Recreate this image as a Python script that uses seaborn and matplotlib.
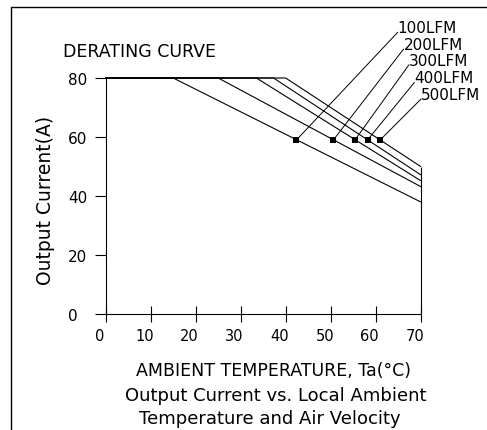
import matplotlib
matplotlib.use("Agg")
import matplotlib.pyplot as plt
import matplotlib.transforms as mtransforms
from matplotlib.lines import Line2D
import pandas as pd
import seaborn as sns

# Derating data: each airflow curve is flat at the max current until its knee,
# then falls linearly to its value at 70 °C.
airflow = ["100LFM", "200LFM", "300LFM", "400LFM", "500LFM"]
knee_temp = [15.0, 25.0, 33.5, 37.3, 40.0]
current_at_70 = [38.0, 43.2, 45.2, 47.2, 50.0]
max_current = 80.0
temp_min = 0.0
temp_max = 70.0

# Reference points marked on each curve
marker_temp = [42.4, 50.6, 55.4, 58.2, 61.0]
marker_current = [59.0, 59.0, 59.0, 59.0, 59.0]

x_ticks = [0, 10, 20, 30, 40, 50, 60, 70]
y_ticks = [0, 20, 40, 60, 80]

# Where the callout text for each curve sits (data coordinates, outside the axes)
label_x = [64.9, 66.2, 67.4, 68.6, 70.1]
label_y = [95.5, 89.8, 84.5, 78.5, 72.9]

rows = []
for name, knee, end in zip(airflow, knee_temp, current_at_70):
    rows.append({"airflow": name, "temp": temp_min, "current": max_current})
    rows.append({"airflow": name, "temp": knee, "current": max_current})
    rows.append({"airflow": name, "temp": temp_max, "current": end})
df = pd.DataFrame(rows)

sns.set_theme(style="white")
plt.rcParams["font.family"] = ["DejaVu Sans"]
plt.rcParams["text.color"] = "black"
plt.rcParams["axes.labelcolor"] = "black"

fig = plt.figure(figsize=(4.87, 4.31), dpi=100)
ax = fig.add_axes([0.217, 0.2691, 0.6468, 0.5476])

sns.lineplot(data=df, x="temp", y="current", hue="airflow", units="airflow",
             estimator=None, sort=False, palette=["black"] * 5, legend=False,
             linewidth=0.8, ax=ax)
for line in ax.lines:
    line.set_clip_on(False)

sns.scatterplot(x=marker_temp, y=marker_current, marker="s", s=14,
                color="black", linewidth=0, ax=ax, zorder=5, clip_on=False)

# Callout leaders and labels
for name, mx, my, lx, ly in zip(airflow, marker_temp, marker_current, label_x, label_y):
    ax.plot([mx, lx], [my, ly], color="black", linewidth=0.7, clip_on=False)
    ax.text(lx, ly, name, ha="left", va="baseline", fontsize=11, clip_on=False)

# Right-hand boundary at the top temperature
ax.vlines(temp_max, 0, max(current_at_70), color="black", linewidth=0.8, clip_on=False)

ax.set_xlim(temp_min, temp_max)
ax.set_ylim(0, max_current)
ax.set_xticks(x_ticks)
ax.set_yticks(y_ticks)
ax.set_xticklabels([str(v) for v in x_ticks], fontsize=10.5)
ax.set_yticklabels([str(v) for v in y_ticks], fontsize=11, ha="left")

for side in ("top", "right"):
    ax.spines[side].set_visible(False)
for side in ("left", "bottom"):
    ax.spines[side].set_color("black")
    ax.spines[side].set_linewidth(0.8)

ax.tick_params(axis="x", bottom=True, direction="inout", length=12, width=0.8,
               color="black", labelcolor="black", pad=4)
ax.tick_params(axis="y", left=True, direction="out", length=7.7, width=0.8,
               color="black", labelcolor="black", pad=19.4)

shift = mtransforms.ScaledTranslation(-6 / 100, 0, fig.dpi_scale_trans)
for lab in ax.get_xticklabels():
    lab.set_transform(lab.get_transform() + shift)

ax.set_ylabel("Output Current(A)", fontsize=13.5, color="black")
ax.yaxis.set_label_coords(-0.161, 0.487)
ax.set_xlabel("AMBIENT TEMPERATURE, Ta(°C)", fontsize=12.5, va="center", color="black")
ax.xaxis.set_label_coords(0.533, -0.237)

fig.text(0.13, 0.8787, "DERATING CURVE", ha="left", va="center", fontsize=12.5)
fig.text(0.566, 0.0812, "Output Current vs. Local Ambient", ha="center", va="center", fontsize=13)
fig.text(0.554, 0.0278, "Temperature and Air Velocity", ha="center", va="center", fontsize=13)

# Drawing border (open to the right and bottom)
fig.add_artist(Line2D([0.0226, 0.0226], [0, 0.9807], transform=fig.transFigure,
                      color="black", linewidth=1.0))
fig.add_artist(Line2D([0.0226, 1.0], [0.9807, 0.9807], transform=fig.transFigure,
                      color="black", linewidth=1.0))

fig.savefig("out.png", dpi=100, facecolor="white")
